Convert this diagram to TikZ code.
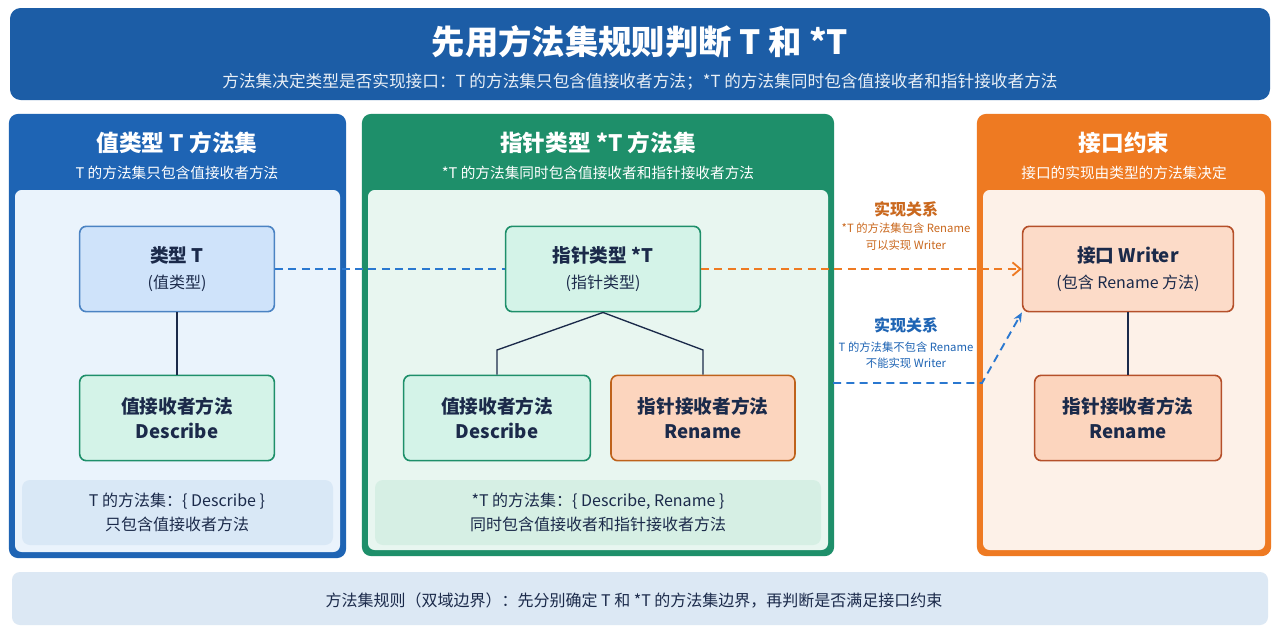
\documentclass[tikz,border=0pt]{standalone}
\usepackage{fontspec}
\setmainfont{Noto Sans CJK SC}
\usetikzlibrary{positioning,arrows.meta}
\definecolor{tblue}{HTML}{1C5DA6}
\definecolor{pblue}{HTML}{1E64B4}
\definecolor{pgreen}{HTML}{1E8F6A}
\definecolor{porange}{HTML}{EE7A22}
\definecolor{txt}{HTML}{1B2A4A}
\definecolor{lbluebg}{HTML}{EAF3FC}
\definecolor{lblue}{HTML}{CFE3FA}
\definecolor{notebl}{HTML}{D9E8F6}
\definecolor{footbl}{HTML}{DCE8F4}
\definecolor{lgreen}{HTML}{D4F3E8}
\definecolor{lgreenbg}{HTML}{E8F6F0}
\definecolor{notegr}{HTML}{D6EFE4}
\definecolor{lorange}{HTML}{FCD5BE}
\definecolor{lorangebg}{HTML}{FDF1E8}
\definecolor{dorange}{HTML}{B5502A}
\definecolor{arrblue}{HTML}{2A78D0}
\tikzset{
  panel/.style = {rounded corners=6pt, line width=1.6pt},
  box/.style = {rounded corners=5pt, line width=1.2pt, minimum width=146pt, minimum height=64pt, align=center, text=txt, font=\fontsize{14}{19}\selectfont},
  note/.style = {rounded corners=6pt, fill=#1, draw=none},
  arrowline/.style = {dashed, line width=1.4pt, dash pattern=on 6pt off 4pt},
}
\begin{document}
\begin{tikzpicture}[x=0.75pt,y=-0.75pt]
  \useasboundingbox[fill=white] (0,0) rectangle (1280,640);
  % banner
  \fill[tblue, rounded corners=8pt] (10,8) rectangle (1270,100);
  \node[text=white, font=\bfseries\fontsize{25}{29}\selectfont] (title) at (640,42) {先用方法集规则判断 T 和 *T};
  \node[text=white!90!tblue, font=\fontsize{12.5}{15}\selectfont] (subtitle) at (640,82) {方法集决定类型是否实现接口：T 的方法集只包含值接收者方法；*T 的方法集同时包含值接收者和指针接收者方法};
  % left panel
  \draw[panel, draw=pblue, fill=pblue] (10,115) rectangle (345,557);
  \fill[lbluebg, rounded corners=5pt] (15,190) rectangle (340,552);
  \node[text=white, font=\bfseries\fontsize{17}{21}\selectfont] (lhead) at (177,143) {值类型 T 方法集};
  \node[text=white, font=\fontsize{11}{13}\selectfont] (lsub) at (177,173) {T 的方法集只包含值接收者方法};
  \node[box, draw=pblue!80, fill=lblue] (typeT) at (177,269) {\textbf{类型 T}\\{\fontsize{12}{16}\selectfont (值类型)}};
  \node[box, draw=pgreen, fill=lgreen] (ldesc) at (177,418) {\textbf{值接收者方法}\\\textbf{Describe}};
  \fill[note=notebl] (22,480) rectangle (333,545);
  \node[text=txt, align=center, font=\fontsize{12}{18}\selectfont] (lset) at (177,512) {T 的方法集：\{ Describe \}\\只包含值接收者方法};
  \draw[txt, line width=1pt] (typeT) -- (ldesc);
  % middle panel
  \draw[panel, draw=pgreen, fill=pgreen] (363,115) rectangle (833,555);
  \fill[lgreenbg, rounded corners=5pt] (368,190) rectangle (828,550);
  \node[text=white, font=\bfseries\fontsize{17}{21}\selectfont] (mhead) at (598,143) {指针类型 *T 方法集};
  \node[text=white, font=\fontsize{11}{13}\selectfont] (msub) at (598,173) {*T 的方法集同时包含值接收者和指针接收者方法};
  \node[box, draw=pgreen, fill=lgreen] (ptrT) at (603,269) {\textbf{指针类型 *T}\\{\fontsize{12}{16}\selectfont (指针类型)}};
  \node[box, minimum width=140pt, draw=pgreen, fill=lgreen] (mdesc) at (497,418) {\textbf{值接收者方法}\\\textbf{Describe}};
  \node[box, minimum width=138pt, draw=porange!80!black, fill=lorange] (mren) at (703,418) {\textbf{指针接收者方法}\\\textbf{Rename}};
  \fill[note=notegr] (375,480) rectangle (821,545);
  \node[text=txt, align=center, font=\fontsize{12}{18}\selectfont] (mset) at (598,512) {*T 的方法集：\{ Describe, Rename \}\\同时包含值接收者和指针接收者方法};
  \coordinate (split) at (ptrT.south);
  \draw[txt, line width=1pt] (split) -- (497,350) -- (mdesc.north);
  \draw[txt, line width=1pt] (split) -- (703,350) -- (mren.north);
  % right panel
  \draw[panel, draw=porange, fill=porange] (978,115) rectangle (1270,555);
  \fill[lorangebg, rounded corners=5pt] (983,190) rectangle (1265,550);
  \node[text=white, font=\bfseries\fontsize{17}{21}\selectfont] (rhead) at (1124,143) {接口约束};
  \node[text=white, font=\fontsize{11}{13}\selectfont] (rsub) at (1124,173) {接口的实现由类型的方法集决定};
  \node[box, minimum width=158pt, draw=dorange, fill=lorange!85!white] (writer) at (1128,269) {\textbf{接口 Writer}\\{\fontsize{12}{16}\selectfont (包含 Rename 方法)}};
  \node[box, minimum width=140pt, draw=dorange, fill=lorange] (rren) at (1128,418) {\textbf{指针接收者方法}\\\textbf{Rename}};
  \draw[txt, line width=1pt] (writer) -- (rren);
  % relations
  \draw[arrowline, arrblue] (typeT) -- (ptrT);
  \draw[arrowline, porange, -{Straight Barb[length=6pt,width=10pt]}] (ptrT) -- (writer);
  \coordinate (tstart) at (833,383);
  \coordinate (tbend) at (982,383);
  \draw[arrowline, arrblue, -{Stealth[length=7pt,width=6pt]}] (tstart) -- (tbend) -- (writer.south west);
  \node[text=porange!85!black, font=\bfseries\fontsize{12}{14}\selectfont] (rel1) at (906,209) {实现关系};
  \node[text=porange!85!black, align=center, font=\fontsize{8.5}{12.5}\selectfont] (rel1t) at (906,237) {*T 的方法集包含 Rename\\可以实现 Writer};
  \node[text=pblue, font=\bfseries\fontsize{12}{14}\selectfont] (rel2) at (906,325) {实现关系};
  \node[text=pblue, align=center, font=\fontsize{8.5}{12.5}\selectfont] (rel2t) at (906,355) {T 的方法集不包含 Rename\\不能实现 Writer};
  % footer
  \fill[note=footbl] (12,572) rectangle (1268,625);
  \node[text=txt, font=\fontsize{12}{14}\selectfont] (rule) at (634,600) {方法集规则（双域边界）：先分别确定 T 和 *T 的方法集边界，再判断是否满足接口约束};
\end{tikzpicture}
\end{document}
